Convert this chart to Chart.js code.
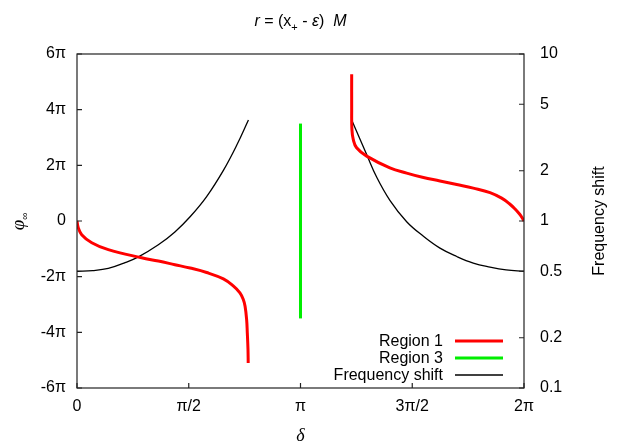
<!DOCTYPE html>
<html>
<head>
<meta charset="utf-8">
<script src="https://cdn.jsdelivr.net/npm/chart.js@4.4.0/dist/chart.umd.min.js"></script>
<style>
  html, body { margin: 0; padding: 0; background: #fff; }
  #wrap { width: 638px; height: 447px; }
</style>
</head>
<body>
<div id="wrap"><canvas id="myChart" width="638" height="447"></canvas></div>
<script>
// delta in units of pi, phi in units of pi
const deltaRegion1a = [0, 0.005, 0.021, 0.066, 0.140, 0.289, 0.364, 0.438, 0.506, 0.580, 0.655, 0.699, 0.729, 0.744, 0.752, 0.759, 0.762, 0.765, 0.766];
const phiRegion1a   = [0, -0.22, -0.49, -0.78, -1.03, -1.32, -1.44, -1.57, -1.69, -1.85, -2.08, -2.33, -2.58, -2.82, -3.06, -3.54, -4.02, -4.6, -5.1];
const deltaRegion1b = [1.229, 1.229, 1.230, 1.236, 1.251, 1.296, 1.400, 1.475, 1.550, 1.624, 1.699, 1.773, 1.848, 1.900, 1.935, 1.960, 1.980, 1.993, 2.0];
const phiRegion1b   = [5.27, 4.01, 3.29, 2.93, 2.63, 2.33, 1.91, 1.72, 1.56, 1.44, 1.31, 1.18, 1.02, 0.82, 0.62, 0.43, 0.25, 0.10, 0];
const deltaRegion3 = [1, 1];
const phiRegion3   = [-3.5, 3.5];
// frequency shift (right log axis)
const deltaFreqA = [0, 0.07, 0.14, 0.21, 0.275, 0.364, 0.438, 0.506, 0.580, 0.655, 0.715, 0.767];
const freqA      = [0.5, 0.505, 0.52, 0.56, 0.61, 0.72, 0.86, 1.06, 1.40, 2.01, 2.85, 4.03];
const deltaFreqB = [1.229, 1.296, 1.340, 1.400, 1.475, 1.550, 1.624, 1.699, 1.773, 1.848, 1.920, 2.0];
const freqB      = [4.03, 2.50, 1.84, 1.33, 0.99, 0.81, 0.688, 0.613, 0.56, 0.53, 0.51, 0.5];

const xTicks = [0, 0.5, 1, 1.5, 2];
const xTickLabels = ['0', 'π/2', 'π', '3π/2', '2π'];
const yTicks = [-6, -4, -2, 0, 2, 4, 6];
const y1Ticks = [0.1, 0.2, 0.5, 1, 2, 5, 10];

const legendItems = [
  { text: 'Region 1', color: '#ff0000', width: 3 },
  { text: 'Region 3', color: '#00ee00', width: 3 },
  { text: 'Frequency shift', color: '#000000', width: 1.3 }
];

function pts(xs, ys) {
  return xs.map((x, i) => ({ x: x, y: ys[i] }));
}

const FONT = '"Liberation Sans", Arial, sans-serif';

// custom drawing: box, inward ticks, titles, legend
const decor = {
  id: 'decor',
  afterDraw(chart) {
    const ctx = chart.ctx;
    const a = chart.chartArea;
    const sx = chart.scales.x, sy = chart.scales.y, sy1 = chart.scales.y1;
    ctx.save();
    ctx.strokeStyle = '#222';
    ctx.lineWidth = 1.2;
    ctx.strokeRect(a.left, a.top, a.right - a.left, a.bottom - a.top);
    ctx.beginPath();
    xTicks.forEach(v => {
      const p = sx.getPixelForValue(v);
      ctx.moveTo(p, a.bottom); ctx.lineTo(p, a.bottom - 5);
    });
    yTicks.forEach(v => {
      const p = sy.getPixelForValue(v);
      ctx.moveTo(a.left, p); ctx.lineTo(a.left + 5, p);
    });
    y1Ticks.forEach(v => {
      const p = sy1.getPixelForValue(v);
      ctx.moveTo(a.right, p); ctx.lineTo(a.right - 5, p);
    });
    ctx.stroke();

    // title: r = (x+ - e) M
    ctx.fillStyle = '#000';
    ctx.textBaseline = 'alphabetic';
    const parts = [
      { t: 'r', f: 'italic 16px ' + FONT },
      { t: ' = (x', f: '16px ' + FONT },
      { t: '+', f: '11px ' + FONT, dy: 5 },
      { t: ' - ', f: '16px ' + FONT },
      { t: 'ε', f: 'italic 16px ' + FONT },
      { t: ')  ', f: '16px ' + FONT },
      { t: 'M', f: 'italic 16px ' + FONT }
    ];
    let total = 0;
    parts.forEach(p => { ctx.font = p.f; p.w = ctx.measureText(p.t).width; total += p.w; });
    let cx = (a.left + a.right) / 2 - total / 2;
    ctx.textAlign = 'left';
    parts.forEach(p => {
      ctx.font = p.f;
      ctx.fillText(p.t, cx, 26 + (p.dy || 0));
      cx += p.w;
    });

    // x axis title
    ctx.textAlign = 'center';
    ctx.font = 'italic 18px "Liberation Serif", serif';
    ctx.fillText('δ', (a.left + a.right) / 2, 441);

    // left axis title phi_inf
    ctx.save();
    ctx.translate(24, (a.top + a.bottom) / 2);
    ctx.rotate(-Math.PI / 2);
    ctx.textAlign = 'left';
    ctx.font = 'italic 19px "Liberation Serif", serif';
    const wPhi = ctx.measureText('φ').width;
    ctx.fillText('φ', -wPhi / 2 - 4, 0);
    ctx.font = '10px ' + FONT;
    ctx.fillText('∞', wPhi / 2 - 4, 4);
    ctx.restore();

    // right axis title
    ctx.save();
    ctx.translate(604, (a.top + a.bottom) / 2);
    ctx.rotate(-Math.PI / 2);
    ctx.textAlign = 'center';
    ctx.font = '16px ' + FONT;
    ctx.fillText('Frequency shift', 0, 0);
    ctx.restore();

    // legend
    ctx.font = '16px ' + FONT;
    ctx.textBaseline = 'middle';
    legendItems.forEach((it, i) => {
      const y = 341 + i * 17;
      ctx.textAlign = 'right';
      ctx.fillStyle = '#000';
      ctx.fillText(it.text, 443, y + 1);
      ctx.strokeStyle = it.color;
      ctx.lineWidth = it.width;
      ctx.beginPath();
      ctx.moveTo(455, y); ctx.lineTo(503, y);
      ctx.stroke();
    });
    ctx.restore();
  }
};

const lineBase = {
  pointRadius: 0,
  fill: false,
  tension: 0.4
};

const config = {
  type: 'line',
  data: {
    datasets: [
      Object.assign({ label: 'Region 1', data: pts(deltaRegion1a, phiRegion1a), borderColor: '#ff0000', borderWidth: 3, yAxisID: 'y' }, lineBase),
      Object.assign({ label: 'Region 1b', data: pts(deltaRegion1b, phiRegion1b), borderColor: '#ff0000', borderWidth: 3, yAxisID: 'y' }, lineBase),
      Object.assign({ label: 'Region 3', data: pts(deltaRegion3, phiRegion3), borderColor: '#00ee00', borderWidth: 3, yAxisID: 'y' }, lineBase),
      Object.assign({ label: 'Frequency shift', data: pts(deltaFreqA, freqA), borderColor: '#000000', borderWidth: 1.3, yAxisID: 'y1' }, lineBase),
      Object.assign({ label: 'Frequency shift b', data: pts(deltaFreqB, freqB), borderColor: '#000000', borderWidth: 1.3, yAxisID: 'y1' }, lineBase)
    ]
  },
  options: {
    responsive: false,
    animation: false,
    layout: { padding: { top: 54, left: 0, right: 0, bottom: 0 } },
    plugins: {
      legend: { display: false },
      title: { display: false },
      tooltip: { enabled: false }
    },
    scales: {
      x: {
        type: 'linear',
        min: 0, max: 2,
        afterBuildTicks: s => { s.ticks = xTicks.map(v => ({ value: v })); },
        afterFit: s => { s.height = 59; },
        grid: { display: false, drawTicks: false },
        border: { display: false },
        ticks: {
          padding: 9,
          color: '#000',
          font: { size: 16, family: FONT },
          maxRotation: 0,
          callback: v => xTickLabels[xTicks.indexOf(v)]
        }
      },
      y: {
        type: 'linear',
        position: 'left',
        min: -6, max: 6,
        afterBuildTicks: s => { s.ticks = yTicks.map(v => ({ value: v })); },
        afterFit: s => { s.width = 77; },
        grid: { display: false, drawTicks: false },
        border: { display: false },
        ticks: {
          padding: 11,
          color: '#000',
          font: { size: 16, family: FONT },
          callback: v => v === 0 ? '0' : v + 'π'
        }
      },
      y1: {
        type: 'logarithmic',
        position: 'right',
        min: 0.1, max: 10,
        afterBuildTicks: s => { s.ticks = y1Ticks.map(v => ({ value: v })); },
        afterFit: s => { s.width = 114; },
        grid: { display: false, drawTicks: false },
        border: { display: false },
        ticks: {
          padding: 16,
          color: '#000',
          font: { size: 16, family: FONT },
          autoSkip: false,
          callback: v => String(v)
        }
      }
    }
  },
  plugins: [decor]
};

const myChart = new Chart(document.getElementById('myChart'), config);
</script>
</body>
</html>
